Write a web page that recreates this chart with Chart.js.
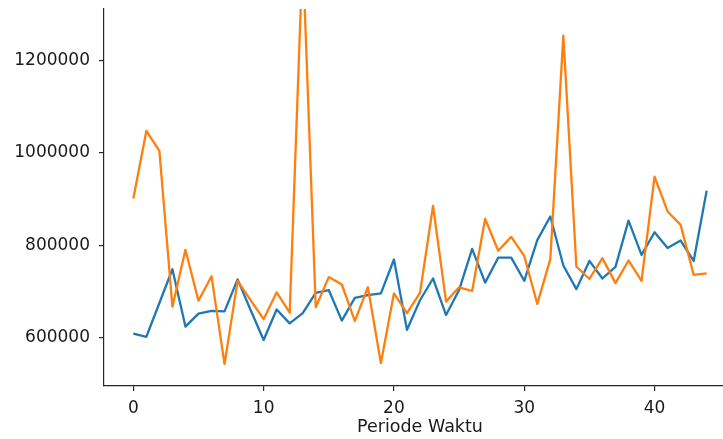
<!DOCTYPE html>
<html>
<head>
<meta charset="utf-8">
<script src="https://cdn.jsdelivr.net/npm/chart.js@4"></script>
<style>
html, body { margin: 0; padding: 0; background: #fff; overflow: hidden; width: 723px; height: 439px; }
#wrap { position: absolute; left: 0; top: 0; width: 736px; height: 460px; }
canvas { display: block; }
</style>
</head>
<body>
<div id="wrap"><canvas id="c" width="736" height="460"></canvas></div>
<script>
const periods = [0,1,2,3,4,5,6,7,8,9,10,11,12,13,14,15,16,17,18,19,20,21,22,23,24,25,26,27,28,29,30,31,32,33,34,35,36,37,38,39,40,41,42,43,44];
const seriesBlue = [609000,602000,675000,748000,624000,652000,658000,657000,726000,660000,595000,661000,631000,653000,697000,703000,637000,686000,692000,696000,769000,617000,681000,728000,649000,703000,792000,719000,773000,773000,723000,811000,862000,756000,705000,766000,728000,753000,853000,779000,828000,794000,810000,766000,918000];
const seriesOrange = [901000,1047000,1004000,667000,790000,680000,733000,543000,723000,681000,640000,698000,654000,1430000,666000,731000,715000,636000,709000,545000,696000,653000,697000,885000,678000,709000,701000,857000,788000,818000,777000,673000,770000,1253000,754000,727000,772000,718000,767000,723000,948000,873000,844000,736000,739000];
const xTickValues = [0,10,20,30,40];
const yTickValues = [600000,800000,1000000,1200000];
const xTitle = 'Periode Waktu';

const axisColor = '#262626';
const textColor = '#1a1a1a';
const fontFamily = 'DejaVu Sans';
const tickFontSize = 17;
const titleFontSize = 17.5;

new Chart(document.getElementById('c'), {
  type: 'line',
  data: {
    datasets: [
      {
        label: 'Series 1',
        data: periods.map((p, i) => ({x: p, y: seriesBlue[i]})),
        borderColor: '#1f77b4',
        borderWidth: 2.3,
        pointRadius: 0,
        tension: 0,
        fill: false,
        borderJoinStyle: 'round',
        clip: 0,
        order: 1
      },
      {
        label: 'Series 2',
        data: periods.map((p, i) => ({x: p, y: seriesOrange[i]})),
        borderColor: '#ff7f0e',
        borderWidth: 2.3,
        pointRadius: 0,
        tension: 0,
        fill: false,
        borderJoinStyle: 'round',
        clip: 0,
        order: 0
      }
    ]
  },
  options: {
    responsive: false,
    animation: false,
    devicePixelRatio: 1,
    layout: { padding: { top: 9, left: 0, right: 0, bottom: 0 } },
    plugins: { legend: { display: false }, tooltip: { enabled: false } },
    scales: {
      x: {
        type: 'linear',
        min: -2.25,
        max: 46.25,
        afterBuildTicks: (s) => { s.ticks = xTickValues.map(v => ({value: v})); },
        afterFit: (s) => { s.height = 74; s.paddingLeft = 0; s.paddingRight = 0; },
        grid: { drawOnChartArea: false, drawTicks: true, tickLength: 5, color: axisColor, lineWidth: 1.2 },
        border: { display: true, color: axisColor, width: 1.2 },
        ticks: { color: textColor, font: { family: fontFamily, size: tickFontSize }, padding: 7, maxRotation: 0, autoSkip: false },
        title: { display: true, text: xTitle, color: textColor, font: { family: fontFamily, size: titleFontSize }, padding: { top: 0, bottom: 22.5 } }
      },
      y: {
        type: 'linear',
        min: 495570,
        max: 1310650,
        afterBuildTicks: (s) => { s.ticks = yTickValues.map(v => ({value: v})); },
        afterFit: (s) => { s.width = 104; s.paddingTop = 0; s.paddingBottom = 0; },
        grid: { drawOnChartArea: false, drawTicks: true, tickLength: 5, color: axisColor, lineWidth: 1.2 },
        border: { display: true, color: axisColor, width: 1.2 },
        ticks: { color: textColor, font: { family: fontFamily, size: tickFontSize }, padding: 9, callback: (v) => String(v) }
      }
    }
  }
});
</script>
</body>
</html>
